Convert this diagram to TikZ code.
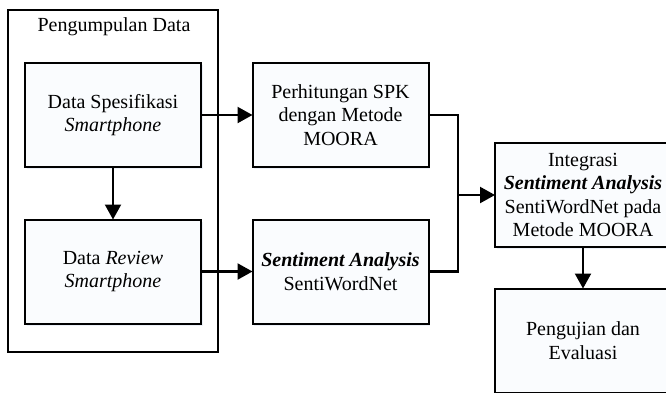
\documentclass[tikz,border=0pt]{standalone}
\usepackage{fontspec}
\setmainfont{Liberation Serif}
\usetikzlibrary{arrows.meta,shadows}
\definecolor{boxfill}{RGB}{250,252,254}
\definecolor{glow}{RGB}{205,218,238}
\begin{document}
\begin{tikzpicture}[x=1pt,y=-1pt,
  every node/.style={inner sep=0pt,outer sep=0pt},
  txt/.style={font=\fontsize{20}{23.5}\selectfont,align=center},
  procbox/.style={txt,draw=black,line width=2pt,fill=boxfill,
    minimum width=176pt,minimum height=104pt,
    drop shadow={shadow xshift=1.5pt,shadow yshift=-2pt,fill=glow,opacity=0.4}},
  flow/.style={line width=2.2pt},
  arr/.style={flow,-{Triangle[length=15pt,width=16pt]}}]
  \useasboundingbox (0,0) rectangle (666,392);
  \clip (0,0) rectangle (666,392);

  % group frame
  \draw[line width=1.8pt] (8,10) rectangle (218,352);
  \node[txt] (grp) at (114,27) {Pengumpulan Data};

  % process boxes
  \node[procbox] (spec) at (113,115) {Data Spesifikasi\\\textit{Smartphone}};
  \node[procbox] (rev)  at (113,271.5) {Data \textit{Review}\\\textit{Smartphone}};
  \node[procbox] (spk)  at (340.5,115) {Perhitungan SPK\\dengan Metode\\MOORA};
  \node[procbox] (sa)   at (340.5,271.5) {\textbf{\textit{Sentiment Analysis}}\\SentiWordNet};
  \node[procbox] (int)  at (583,195) {Integrasi\\\textbf{\textit{Sentiment Analysis}}\\SentiWordNet pada\\Metode MOORA};
  \node[procbox] (test) at (583,340.5) {Pengujian dan\\Evaluasi};

  % connectors
  \draw[arr] (spec) -- (rev);
  \draw[arr] (spec) -- (spk);
  \draw[arr] (rev) -- (sa);
  \coordinate (j) at (458,195);
  \draw[flow] (spk.east) -| (j);
  \draw[flow] (sa.east) -| (j);
  \draw[arr] (j) -- (int);
  \draw[arr] (int) -- (test);
\end{tikzpicture}
\end{document}
